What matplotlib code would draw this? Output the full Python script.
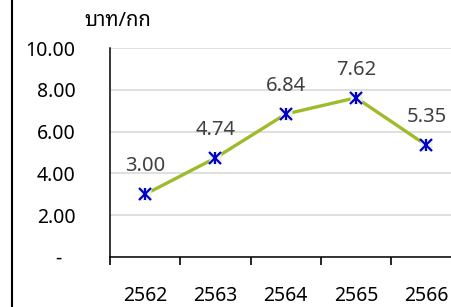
import matplotlib
matplotlib.use('Agg')
import matplotlib.pyplot as plt
from matplotlib.lines import Line2D

plt.rcParams['font.family'] = ['Noto Sans', 'Noto Sans Thai Looped', 'Noto Sans Thai', 'DejaVu Sans']

years = ['2562', '2563', '2564', '2565', '2566']
price = [3.00, 4.74, 6.84, 7.62, 5.35]
yticks = [0, 2, 4, 6, 8, 10]
ylabels = ['', '2.00', '4.00', '6.00', '8.00', '10.00']
unit = 'บาท/กก'

W, H = 451, 307
fig = plt.figure(figsize=(W / 100, H / 100), dpi=100)
# plot area: left 110px, bottom axis at 257px, top at 48px, runs past right edge
ax = fig.add_axes([110 / W, (H - 257) / H, 351.5 / W, 209 / H])

x = list(range(len(years)))
ax.plot(x, price, color='#9DBB2A', lw=2.4, zorder=3, solid_capstyle='round')
ax.plot(x, price, ls='none', marker='s', ms=8, mfc='#EEF0D6', mec='none', zorder=4)
ax.plot(x, price, ls='none', marker='x', ms=8, mew=1.6, color='#0000CC', zorder=5)
ax.plot(x, price, ls='none', marker='|', ms=9, mew=1.6, color='#0000CC', zorder=5)

for xi, v in zip(x, price):
    ax.annotate(f'{v:.2f}', (xi, v), xytext=(0, 13), textcoords='offset points',
                ha='center', va='bottom', fontsize=14.5, color='#404040')

ax.set_xlim(-0.5, 4.5)
ax.set_ylim(0, 10)
ax.set_yticks(yticks)
ax.set_yticklabels(ylabels)
ax.tick_params(axis='y', length=0, pad=25, labelsize=14)
for lb in ax.get_yticklabels():
    lb.set_fontweight('semibold')
ax.annotate('-', (0, 0), xycoords='axes fraction', xytext=(-37, -1),
            textcoords='offset points', ha='center', va='center',
            fontsize=14, fontweight='semibold')

ax.set_xticks([i - 0.5 for i in range(len(years) + 1)])
ax.set_xticklabels([])
ax.set_xticks(x, minor=True)
ax.set_xticklabels(years, minor=True)
ax.tick_params(axis='x', which='major', length=5.5, width=1.2, direction='out', color='black')
ax.tick_params(axis='x', which='minor', length=0, pad=21, labelsize=14)
for lb in ax.get_xticklabels(minor=True):
    lb.set_fontweight('semibold')

ax.grid(axis='y', color='#D9D9D9', lw=1.2)
ax.set_axisbelow(True)
for s in ['top', 'right']:
    ax.spines[s].set_visible(False)
ax.spines['left'].set_linewidth(1.1)
ax.spines['bottom'].set_linewidth(1.1)

fig.text(118 / W, 1 - 21 / H, unit, ha='center', va='center', fontsize=14.5)
fig.add_artist(Line2D([11.5 / W, 11.5 / W], [0, 1], color='black', lw=1.5))

fig.savefig('out.png', dpi=100)
